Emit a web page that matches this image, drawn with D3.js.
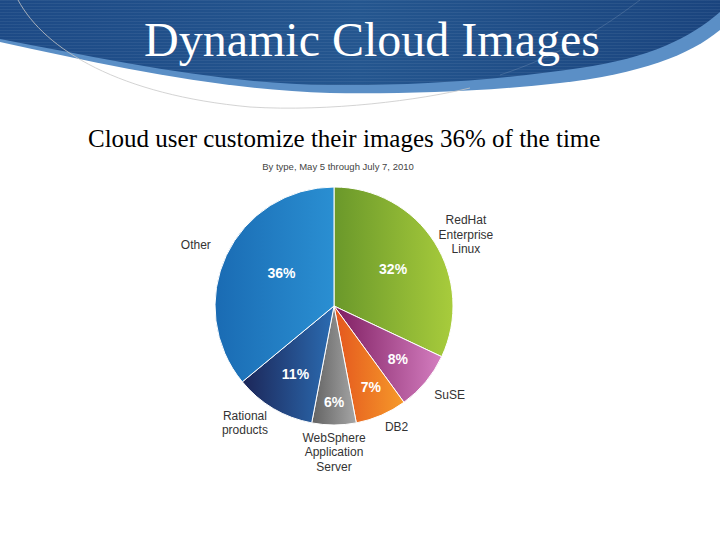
<!DOCTYPE html>
<html>
<head>
<meta charset="utf-8">
<script src="https://cdn.jsdelivr.net/npm/d3@7"></script>
<style>
  html, body { margin: 0; padding: 0; background: #fff; }
  svg { display: block; }
</style>
</head>
<body>
<svg id="chart" width="720" height="540"></svg>
<script>
// ---- data ----
const categories = ["RedHat Enterprise Linux", "SuSE", "DB2", "WebSphere Application Server", "Rational products", "Other"];
const labelLines = [["RedHat", "Enterprise", "Linux"], ["SuSE"], ["DB2"], ["WebSphere", "Application", "Server"], ["Rational", "products"], ["Other"]];
const shares = [32, 8, 7, 6, 11, 36];
const titleText = "Dynamic Cloud Images";
const subtitleText = "Cloud user customize their images 36% of the time";
const chartCaption = "By type, May 5 through July 7, 2010";

// ---- style ----
const gradStops = [
  ["#6a982a", "#a8cc3c"],
  ["#7e1d60", "#d47ec0"],
  ["#e4561e", "#f69a2a"],
  ["#626262", "#a6a6a6"],
  ["#1c2658", "#2b6cb2"],
  ["#1a6bb3", "#2a8fd2"]
];
const pctRadius = [70, 83, 89, 96, 78, 62];
const pctAngleNudge = [0, 0, -1, 0, -1, 7];
const outRadius = [150, 146, 136, 146, 147, 151];
const outAngleNudge = [4, -2, -4, 0, 6.7, -1.4];

const svg = d3.select("#chart");
const defs = svg.append("defs");

// ---- header band ----
const hg = defs.append("linearGradient").attr("id", "hdr").attr("x1", 0).attr("x2", 1).attr("y1", 0).attr("y2", 0);
hg.append("stop").attr("offset", 0).attr("stop-color", "#1d4a86");
hg.append("stop").attr("offset", 0.5).attr("stop-color", "#24568f");
hg.append("stop").attr("offset", 1).attr("stop-color", "#1a447e");
const stripes = defs.append("pattern").attr("id", "stripes").attr("patternUnits", "userSpaceOnUse")
  .attr("width", 8).attr("height", 3);
stripes.append("rect").attr("width", 8).attr("height", 1).attr("fill", "rgba(255,255,255,0.06)");

const darkPath = "M0,0 H720 V12 C690,38 650,58 580,68 C500,80 410,86 330,85 C220,84 110,60 0,39 Z";
// light strip under the band
svg.append("path")
  .attr("d", "M0,0 H720 V30 C690,55 640,74 560,83 C480,92 400,94 330,93 C220,90 110,66 0,42 Z")
  .attr("fill", "#5b8fc6");
// dark band
svg.append("path").attr("d", darkPath).attr("fill", "url(#hdr)");
svg.append("path").attr("d", darkPath).attr("fill", "url(#stripes)");
// thin gray swoosh lines
svg.append("path")
  .attr("d", "M18,0 C45,50 120,95 250,107 C330,112 420,100 470,88")
  .attr("fill", "none").attr("stroke", "#c8c8c8").attr("stroke-width", 0.8);
svg.append("path")
  .attr("d", "M640,0 C600,30 560,55 500,75")
  .attr("fill", "none").attr("stroke", "rgba(255,255,255,0.18)").attr("stroke-width", 0.8);

svg.append("text")
  .attr("x", 372).attr("y", 56)
  .attr("text-anchor", "middle")
  .attr("font-family", "'Liberation Serif', 'Times New Roman', serif")
  .attr("font-size", 48)
  .attr("fill", "#ffffff")
  .text(titleText);

svg.append("text")
  .attr("x", 88).attr("y", 147)
  .attr("font-family", "'Liberation Serif', 'Times New Roman', serif")
  .attr("font-size", 25)
  .attr("fill", "#000")
  .text(subtitleText);

svg.append("text")
  .attr("x", 338).attr("y", 170)
  .attr("text-anchor", "middle")
  .attr("font-family", "'Liberation Sans', Arial, sans-serif")
  .attr("font-size", 9.5)
  .attr("fill", "#444")
  .text(chartCaption);

// ---- pie ----
const cx = 334, cy = 306, R = 119;
const g = svg.append("g").attr("transform", `translate(${cx},${cy})`);

gradStops.forEach((s, i) => {
  const lg = defs.append("linearGradient").attr("id", "sl" + i)
    .attr("x1", 0).attr("x2", 1).attr("y1", 0).attr("y2", 0);
  lg.append("stop").attr("offset", 0).attr("stop-color", s[0]);
  lg.append("stop").attr("offset", 1).attr("stop-color", s[1]);
});

const pie = d3.pie().sort(null).value(d => d)(shares);
const arc = d3.arc().innerRadius(0).outerRadius(R);

g.selectAll("path.slice")
  .data(pie)
  .join("path")
  .attr("class", "slice")
  .attr("d", arc)
  .attr("fill", (d, i) => `url(#sl${i})`)
  .attr("stroke", "#fff")
  .attr("stroke-width", 1);

function polar(r, a) {
  return [r * Math.sin(a), -r * Math.cos(a)];
}
const deg = Math.PI / 180;

g.selectAll("text.pct")
  .data(pie)
  .join("text")
  .attr("class", "pct")
  .each(function (d, i) {
    const a = (d.startAngle + d.endAngle) / 2 + pctAngleNudge[i] * deg;
    const [x, y] = polar(pctRadius[i], a);
    d3.select(this).attr("x", x).attr("y", y);
  })
  .attr("text-anchor", "middle")
  .attr("dy", "0.36em")
  .attr("font-family", "'Liberation Sans', Arial, sans-serif")
  .attr("font-weight", "bold")
  .attr("font-size", 14)
  .attr("fill", "#fff")
  .text(d => d.data + "%");

const lineH = 14.5;
g.selectAll("text.lbl")
  .data(pie)
  .join("text")
  .attr("class", "lbl")
  .attr("text-anchor", "middle")
  .attr("font-family", "'Liberation Sans', Arial, sans-serif")
  .attr("font-size", 12)
  .attr("fill", "#333")
  .each(function (d, i) {
    const a = (d.startAngle + d.endAngle) / 2 + outAngleNudge[i] * deg;
    const [x, y] = polar(outRadius[i], a);
    const lines = labelLines[i];
    const y0 = y - (lines.length - 1) * lineH / 2;
    d3.select(this).selectAll("tspan")
      .data(lines)
      .join("tspan")
      .attr("x", x)
      .attr("y", (t, k) => y0 + k * lineH)
      .attr("dy", "0.35em")
      .text(t => t);
  });
</script>
</body>
</html>
